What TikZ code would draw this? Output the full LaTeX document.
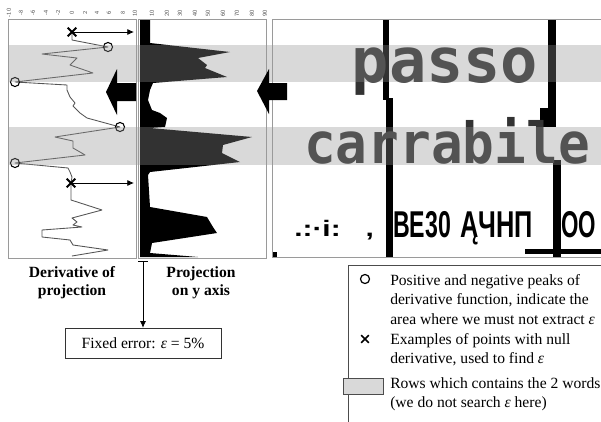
\documentclass[tikz,border=0pt]{standalone}
\usepackage{fontspec}
\setmainfont{Liberation Serif}
\newfontfamily\pixfont{DejaVu Sans Mono}
\newfontfamily\signfont{Liberation Sans}
\usetikzlibrary{arrows.meta,shapes.misc}
\definecolor{bandc}{gray}{0.57}
\definecolor{letc}{HTML}{333333}
\definecolor{curvec}{HTML}{555555}
\definecolor{framec}{HTML}{9A9A9A}
\definecolor{legc}{HTML}{D9D9D9}
\tikzset{
  frame/.style={draw=framec, line width=0.6pt},
  curve/.style={draw=curvec, line width=0.65pt, line join=round},
  peak/.style={circle, draw=black, line width=0.8pt, minimum size=6.8pt, inner sep=0pt},
  xmark/.style={cross out, draw=black, line width=1.5pt, minimum size=5pt, inner sep=0pt},
  thinarrow/.style={draw=black, line width=0.6pt, -{Latex[length=5pt,width=4.5pt]}},
  bigarrow/.style={fill=black, draw=none},
  tick/.style={font=\fontsize{4.5}{5}\selectfont\sffamily, text=black!70, rotate=90, inner sep=0pt},
  lab/.style={font=\fontsize{11.7}{13.5}\selectfont\bfseries, align=center, inner sep=0pt},
  legtext/.style={font=\fontsize{11.7}{14.6}\selectfont, align=left, inner sep=0pt, anchor=north west},
  pix/.style={font=\pixfont\bfseries, text=letc, inner sep=0pt},
  sign/.style={font=\signfont\bfseries\fontsize{28}{28}\selectfont, text=black, inner sep=0pt},
}
\begin{document}
\begin{tikzpicture}[x=0.75pt,y=-0.75pt]
\useasboundingbox (0,0) rectangle (601,422);
\begin{scope}
\clip (0,0) rectangle (601,422);

% ---- derivative curve ----
\draw[curve] (72,32) -- (72,40) -- (108,47) -- (42,54) -- (77,58) -- (70,65) -- (93,73) -- (15,82)
  -- (67,85) -- (67,90) -- (70,97) -- (75,103) -- (73,106) -- (80,113) -- (87,118) -- (120,127)
  -- (55,137) -- (73,141) -- (73,148) -- (80,152) -- (85,155) -- (15,163) -- (68,168) -- (70,172)
  -- (72,177) -- (71,183) -- (71,200) -- (102,210) -- (72,218) -- (77,222) -- (73,225) -- (82,227)
  -- (42,230) -- (42,237) -- (70,240) -- (73,245) -- (108,250) -- (72,256);
\node[peak] (p1) at (108,47) {};
\node[peak] (p2) at (15,82) {};
\node[peak] (p3) at (120,127) {};
\node[peak] (p4) at (15,163) {};
\node[xmark] (x1) at (72,32) {};
\node[xmark] (x2) at (71,183) {};
\coordinate (a1) at (134,32);
\coordinate (a2) at (134,183);
\draw[thinarrow] (x1.center) -- (a1);
\draw[thinarrow] (x2.center) -- (a2);

% ---- projection ----
\fill[black] (140,20) -- (150,20) -- (150,43) -- (230,52) -- (198,58) -- (207,65) -- (205,68)
  -- (227,77) -- (153,83) -- (150,90) -- (148,100) -- (152,110) -- (160,113) -- (167,118)
  -- (165,127) -- (150,128) -- (252,137) -- (223,145) -- (222,153) -- (240,162) -- (150,172)
  -- (148,175) -- (150,207) -- (207,217) -- (210,222) -- (213,227) -- (217,233) -- (152,243)
  -- (150,253) -- (198,257) -- (140,257) -- cycle;

% ---- image panel ----
\fill[black] (383,20) rectangle (389,100);
\fill[black] (386,98) rectangle (393,257);
\fill[black] (548,20) rectangle (556,112);
\fill[black] (540,108) rectangle (556,127);
\fill[black] (553,160) rectangle (561,257);
\fill[black] (525,249) rectangle (601,254);
\fill[black] (272,252) rectangle (277,257);
\node[pix, anchor=base, font=\pixfont\bfseries\fontsize{46.5}{46.5}\selectfont] (passo) at (445,82) {passo};
\node[pix, anchor=base, font=\pixfont\bfseries\fontsize{42.5}{42.5}\selectfont] (carr) at (447,163) {\scalebox{0.93}[1]{carrabile}};
\node[sign, anchor=base west] (s1) at (294,236) {\scalebox{0.8}[0.6]{.:·i:\ \ \ ,}};
\node[sign, anchor=base west] (s2) at (393,237) {\scalebox{0.62}[1]{BE30}};
\node[sign, anchor=base west] (s3) at (460,237) {\scalebox{0.68}[1]{ĄЧНП}};
\node[sign, anchor=base west] (s4) at (561,237) {\scalebox{0.6}[1]{OO}};

% ---- bands ----
\fill[bandc, opacity=0.35] (8,45) rectangle (601,82);
\fill[bandc, opacity=0.35] (8,127) rectangle (601,165);

% ---- frames ----
\draw[frame] (8,19.5) rectangle (136,258);
\draw[frame] (138,19.5) rectangle (266,258);
\draw[frame] (272,19.5) rectangle (610,257.5);

% ---- big arrows ----
\fill[bigarrow] (106,92) -- (117,69) -- (117,83) -- (136,83) -- (136,101) -- (117,101) -- (117,115) -- cycle;
\fill[bigarrow] (257,91) -- (269,69) -- (269,83) -- (287,83) -- (287,100) -- (269,100) -- (269,114) -- cycle;

% ---- top tick labels ----
\foreach \xx/\tt in {9/-10,21/-8,33/-6,46/-4,58/-2,72/0,85/2,97/4,109/6,123/8,135/10,
                     152/10,167/20,180/30,195/40,208/50,223/60,237/70,252/80,265/90}{
  \node[tick] (t\xx) at (\xx,13) {\tt};
}

% ---- labels below ----
\node[lab] (dlab) at (72,283) {Derivative of\\projection};
\node[lab] (plab) at (201,283) {Projection\\on y axis};
\coordinate (dstart) at (143,261);
\node[draw=black!80, line width=0.6pt, minimum width=117pt, minimum height=23pt, inner sep=0pt,
      font=\fontsize{11.7}{14}\selectfont] (fixed) at (143,343.5) {Fixed error: {\itshape ε} = 5\%};
\draw[draw=black, line width=0.6pt, {Bar[width=7pt]}-{Latex[length=5pt,width=4.5pt]}] (dstart) -- (fixed.north);

% ---- legend ----
\draw[draw=black!70, line width=0.6pt] (610,265) -- (348,265) -- (348,430);
\node[peak, line width=0.9pt] (lp) at (365,279) {};
\node[legtext] (lt1) at (390,274.2) {Positive and negative peaks of\\derivative function, indicate the\\area where we must not extract {\itshape ε}};
\node[xmark, line width=1.3pt, minimum size=4.5pt] (lx) at (365,339) {};
\node[legtext] (lt2) at (390,333.2) {Examples of points with null\\derivative, used to find {\itshape ε}};
\node[draw=black!70, fill=legc, line width=0.6pt, minimum width=30.5pt, minimum height=12pt, inner sep=0pt] (lr) at (363.5,386) {};
\node[legtext] (lt3) at (390,377.2) {Rows which contains the 2 words\\(we do not search {\itshape ε} here)};
\end{scope}
\end{tikzpicture}
\end{document}
